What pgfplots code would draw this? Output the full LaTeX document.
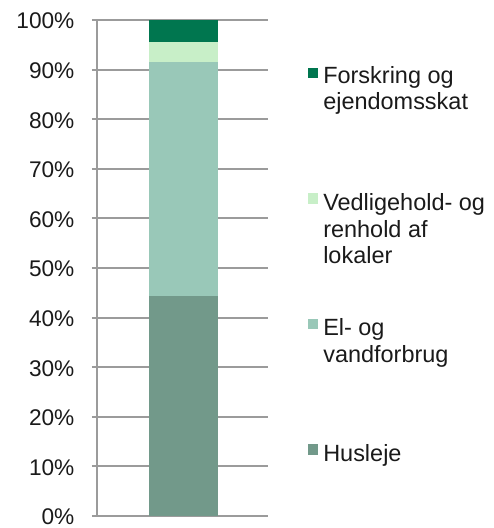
\documentclass[border=0pt]{standalone}
\usepackage{fontspec}
\setmainfont{Liberation Sans}
\usepackage{pgfplots}
\pgfplotsset{compat=1.18}
\definecolor{c1}{HTML}{72998A}
\definecolor{c2}{HTML}{99C8B8}
\definecolor{c3}{HTML}{C8EFC8}
\definecolor{c4}{HTML}{00764F}
\definecolor{gridc}{HTML}{9B9B9B}
\definecolor{txt}{HTML}{1A1A1A}
\newcommand{\tf}{\fontsize{17}{20}\selectfont}
\newcommand{\lf}{\fontsize{17.6}{20}\selectfont}
\begin{document}
\begin{tikzpicture}[x=0.75pt,y=0.75pt]
\path (0,0) rectangle (493,528);
\begin{axis}[
  at={(72.75pt,9pt)}, anchor=south west,
  scale only axis, width=128.25pt, height=372pt,
  xmin=0, xmax=1, ymin=0, ymax=100,
  ybar stacked, bar width=51.75pt,
  axis x line=none,
  axis y line*=left,
  y axis line style={draw=gridc, line width=1.5pt, -},
  ymajorgrids,
  grid style={draw=gridc, line width=1.5pt},
  ytick={0,10,...,100},
  yticklabels={0\%,10\%,20\%,30\%,40\%,50\%,60\%,70\%,80\%,90\%,100\%},
  tick align=outside, major tick length=3.75pt,
  ytick style={draw=gridc, line width=1.5pt},
  yticklabel style={font=\tf, text=txt, anchor=east, inner sep=0pt, xshift=-13pt, yshift=-0.8pt},
  xtick=\empty,
  clip=false,
]
\addplot[fill=c1, draw=none] coordinates {(0.506,44.4)};
\addplot[fill=c2, draw=none] coordinates {(0.506,47.2)};
\addplot[fill=c3, draw=none] coordinates {(0.506,4.0)};
\addplot[fill=c4, draw=none] coordinates {(0.506,4.4)};
\end{axis}
% legend
\fill[c4] (308,528-78) rectangle (318,528-68);
\node[anchor=base west, inner sep=0pt, text=txt, font=\lf] at (323,528-84) {Forskring og};
\node[anchor=base west, inner sep=0pt, text=txt, font=\lf] at (323,528-110) {ejendomsskat};
\fill[c3] (308,528-204) rectangle (318,528-193);
\node[anchor=base west, inner sep=0pt, text=txt, font=\lf] at (323,528-211) {Vedligehold- og};
\node[anchor=base west, inner sep=0pt, text=txt, font=\lf] at (323,528-237.5) {renhold af};
\node[anchor=base west, inner sep=0pt, text=txt, font=\lf] at (323,528-264) {lokaler};
\fill[c2] (308,528-329) rectangle (318,528-319);
\node[anchor=base west, inner sep=0pt, text=txt, font=\lf] at (323,528-336) {El- og};
\node[anchor=base west, inner sep=0pt, text=txt, font=\lf] at (323,528-363) {vandforbrug};
\fill[c1] (308,528-455) rectangle (318,528-444);
\node[anchor=base west, inner sep=0pt, text=txt, font=\lf] at (323,528-462) {Husleje};
\end{tikzpicture}
\end{document}
